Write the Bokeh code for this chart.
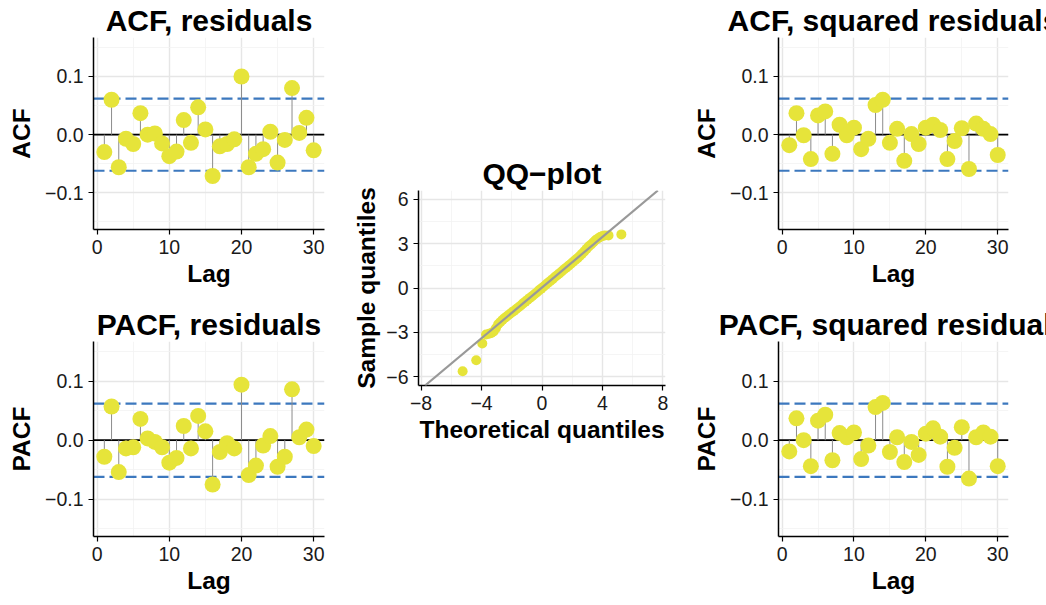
from bokeh.plotting import figure
from bokeh.layouts import row, column
from bokeh.models import FixedTicker, Span, Slope, CustomJSTickFormatter, Range1d
from bokeh.embed import file_html
from bokeh.resources import INLINE

# ---------------- data ----------------
lags = list(range(1, 31))
acf_resid = [-0.030, 0.060, -0.056, -0.007, -0.016, 0.037, 0.000, 0.002, -0.015, -0.037,
             -0.029, 0.025, -0.014, 0.047, 0.009, -0.071, -0.020, -0.016, -0.008, 0.100,
             -0.056, -0.033, -0.025, 0.005, -0.048, -0.009, 0.080, 0.003, 0.029, -0.027]
pacf_resid = [-0.028, 0.057, -0.054, -0.014, -0.012, 0.036, 0.003, -0.003, -0.012, -0.038,
              -0.030, 0.024, -0.014, 0.041, 0.015, -0.075, -0.020, -0.005, -0.014, 0.094,
              -0.059, -0.043, -0.009, 0.007, -0.045, -0.028, 0.086, 0.005, 0.018, -0.010]
acf_sq = [-0.018, 0.037, -0.001, -0.042, 0.033, 0.040, -0.033, 0.017, -0.001, 0.012,
          -0.025, -0.007, 0.051, 0.060, -0.014, 0.010, -0.045, 0.001, -0.016, 0.012,
          0.017, 0.008, -0.042, -0.011, 0.011, -0.059, 0.019, 0.010, 0.001, -0.035]
pacf_sq = [-0.019, 0.037, 0.000, -0.044, 0.033, 0.043, -0.034, 0.012, 0.005, 0.013,
           -0.032, -0.009, 0.056, 0.063, -0.020, 0.005, -0.037, -0.003, -0.025, 0.011,
           0.020, 0.006, -0.045, -0.013, 0.022, -0.065, 0.005, 0.013, 0.006, -0.044]
conf_bound = 0.062

qq_theoretical = [-5.25, -4.35, -3.95, -3.7, -3.5, -3.35, -3.2, -3.05, -2.9, -2.75, -2.6, -2.45,
                  -2.3, -2.15, -2.0, -1.85, -1.7, -1.55, -1.4, -1.25, -1.1, -0.95, -0.8, -0.65,
                  -0.5, -0.35, -0.2, -0.05, 0.1, 0.25, 0.4, 0.55, 0.7, 0.85, 1.0, 1.15, 1.3,
                  1.45, 1.6, 1.75, 1.9, 2.05, 2.2, 2.35, 2.5, 2.65, 2.8, 2.95, 3.1, 3.25, 3.4,
                  3.55, 3.7, 3.85, 4.0, 4.15, 4.4, 5.25]
qq_sample = [-5.63, -4.89, -3.76, -3.15, -3.10, -3.05, -2.95, -2.72, -2.45, -2.30, -2.15, -2.02,
             -1.90, -1.78, -1.66, -1.55, -1.42, -1.30, -1.18, -1.04, -0.92, -0.80, -0.67, -0.55,
             -0.42, -0.30, -0.16, -0.04, 0.09, 0.22, 0.35, 0.47, 0.60, 0.74, 0.86, 0.99, 1.12,
             1.25, 1.37, 1.50, 1.62, 1.76, 1.90, 2.02, 2.17, 2.32, 2.48, 2.65, 2.82, 2.95, 3.10,
             3.25, 3.35, 3.45, 3.52, 3.55, 3.56, 3.63]
qq_line_intercept = 0.03
qq_line_slope = 0.857

lag_ticks = [0, 10, 20, 30]
lag_minor = [5, 15, 25]
acf_ticks = [-0.1, 0.0, 0.1]
acf_minor = [-0.15, -0.05, 0.05, 0.15]
qq_x_ticks = [-8, -4, 0, 4, 8]
qq_x_minor = [-6, -2, 2, 6]
qq_y_ticks = [-6, -3, 0, 3, 6]
qq_y_minor = [-4.5, -1.5, 1.5, 4.5]

# ---------------- style ----------------
FONT = "Liberation Sans"
YELLOW = "#E6E43A"
BLUE = "#3C78BE"
TEXT = "#1A1A1A"

fmt1 = CustomJSTickFormatter(code="return (tick < -1e-9 ? '\u2212' : '') + Math.abs(tick).toFixed(1);")
fmt0 = CustomJSTickFormatter(code="return (tick < -1e-9 ? '\u2212' : '') + Math.abs(tick).toFixed(0);")


def style(p, xt, xm, yt, ym, yfmt, xfmt):
    p.outline_line_color = None
    p.background_fill_color = "white"
    p.border_fill_color = "white"
    p.xaxis.ticker = FixedTicker(ticks=xt, minor_ticks=xm)
    p.yaxis.ticker = FixedTicker(ticks=yt, minor_ticks=ym)
    p.xaxis.formatter = xfmt
    p.yaxis.formatter = yfmt
    for ax in (p.xaxis, p.yaxis):
        ax.axis_line_color = "black"
        ax.axis_line_width = 1.5
        ax.major_tick_line_color = "black"
        ax.major_tick_line_width = 1.2
        ax.major_tick_in = 0
        ax.major_tick_out = 5
        ax.minor_tick_line_color = None
        ax.major_label_text_font = FONT
        ax.major_label_text_font_size = "19.5px"
        ax.major_label_text_color = TEXT
        ax.axis_label_text_font = FONT
        ax.axis_label_text_font_size = "24.5px"
        ax.axis_label_text_font_style = "bold"
        ax.axis_label_text_color = "black"
    p.xaxis.major_label_standoff = 5
    p.yaxis.major_label_standoff = 5
    p.xaxis.axis_label_standoff = 3
    p.yaxis.axis_label_standoff = 7
    for g in (p.xgrid, p.ygrid):
        g.grid_line_color = "#E6E6E6"
        g.grid_line_width = 1.4
        g.minor_grid_line_color = "#F3F3F3"
        g.minor_grid_line_width = 0.8
    p.title.text_font = FONT
    p.title.text_font_size = "30px"
    p.title.text_font_style = "bold"
    p.title.align = "center"
    p.title.text_color = "black"
    p.title.standoff = 2


def acf_panel(title, ylabel, vals, height, top, bottom, width, left, right):
    p = figure(width=width, height=height, output_backend="svg", toolbar_location=None,
               x_range=Range1d(-0.5, 31.5), y_range=Range1d(-0.163, 0.167),
               min_border_left=left, min_border_right=right,
               min_border_top=top, min_border_bottom=bottom, title=title,
               x_axis_label="Lag", y_axis_label=ylabel)
    style(p, lag_ticks, lag_minor, acf_ticks, acf_minor, fmt1, fmt0)
    p.add_layout(Span(location=0, dimension="width", line_color="black", line_width=1.8, level="underlay"))
    p.add_layout(Span(location=conf_bound, dimension="width", line_color=BLUE, line_width=2.2,
                      line_dash="11 5", level="underlay"))
    p.add_layout(Span(location=-conf_bound, dimension="width", line_color=BLUE, line_width=2.2,
                      line_dash="11 5", level="underlay"))
    p.segment(x0=lags, y0=[0] * len(lags), x1=lags, y1=vals, line_color="#8C8C8C", line_width=1)
    p.scatter(x=lags, y=vals, size=16, fill_color=YELLOW, line_color=None)
    return p


LW, RW = 345, 356
p1 = acf_panel("ACF, residuals", "ACF", acf_resid, 300, 33, 71, LW, 93, 21)
p2 = acf_panel("PACF, residuals", "PACF", pacf_resid, 305, 41, 69, LW, 93, 21)
p4 = acf_panel("ACF, squared residuals", "ACF", acf_sq, 300, 33, 71, RW, 88, 38)
p5 = acf_panel("PACF, squared residuals", "PACF", pacf_sq, 305, 41, 69, RW, 88, 38)

q = figure(width=345, height=605, output_backend="svg", toolbar_location=None,
           x_range=Range1d(-8.17, 8.17), y_range=Range1d(-6.6, 6.6),
           min_border_left=73, min_border_right=25, min_border_top=190, min_border_bottom=220,
           title="QQ\u2212plot", x_axis_label="Theoretical quantiles", y_axis_label="Sample quantiles")
style(q, qq_x_ticks, qq_x_minor, qq_y_ticks, qq_y_minor, fmt0, fmt0)
q.yaxis.axis_label_standoff = 3
q.scatter(x=qq_theoretical, y=qq_sample, size=10, fill_color=YELLOW, line_color=None)
q.add_layout(Slope(gradient=qq_line_slope, y_intercept=qq_line_intercept, line_color="#999999", line_width=2.2))

layout = row(column(p1, p2), q, column(p4, p5))
open("out.html", "w").write(file_html(layout, INLINE))
